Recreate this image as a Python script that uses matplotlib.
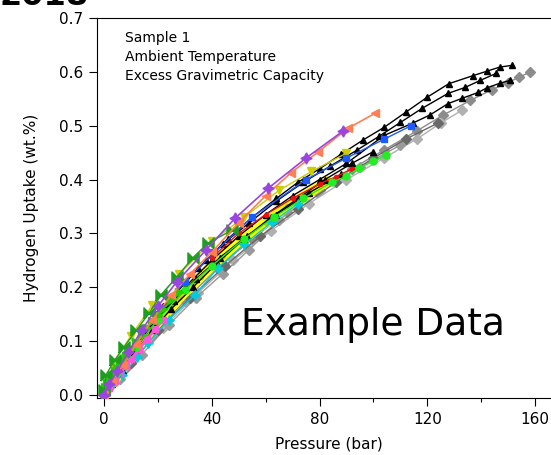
import numpy as np
import matplotlib.pyplot as plt
from matplotlib.path import Path

# isotermas de ejemplo (presion en bar, captacion en wt.%)
black_a_p = [0, 4, 9, 15, 22, 30, 38, 46, 55, 64, 72, 80, 88, 96, 104, 112, 120, 128, 137, 142, 147, 151.5]
black_a_u = [0, 0.035, 0.075, 0.12, 0.165, 0.21, 0.25, 0.29, 0.33, 0.365, 0.395, 0.42, 0.447, 0.473, 0.497, 0.525, 0.553, 0.578, 0.593, 0.601, 0.609, 0.612]
black_b_p = [0, 5, 10, 18, 26, 35, 44, 54, 64, 74, 84, 94, 102, 110, 118, 127.7, 134, 139.6, 145.5]
black_b_u = [0, 0.04, 0.08, 0.135, 0.185, 0.235, 0.28, 0.32, 0.36, 0.395, 0.425, 0.455, 0.48, 0.506, 0.532, 0.56, 0.571, 0.584, 0.597]
black_c_p = [0, 6, 12, 20, 30, 40, 50, 60, 70, 80, 90, 104, 114.7, 121, 127.7, 133, 139, 142, 147, 150.7]
black_c_u = [0, 0.045, 0.09, 0.145, 0.2, 0.25, 0.295, 0.335, 0.37, 0.4, 0.43, 0.482, 0.505, 0.52, 0.541, 0.551, 0.562, 0.57, 0.579, 0.584]
black_d_p = [0, 3, 7, 12, 18, 25, 33, 42, 52, 62, 72, 82, 92, 100]
black_d_u = [0, 0.02, 0.045, 0.08, 0.12, 0.16, 0.2, 0.245, 0.29, 0.33, 0.365, 0.4, 0.43, 0.452]
black_e_p = [0, 4, 8, 13, 19, 26, 34, 43, 53, 64, 76, 88]
black_e_u = [0, 0.03, 0.06, 0.095, 0.135, 0.175, 0.215, 0.255, 0.295, 0.335, 0.375, 0.41]

gray_a_p = [0, 8, 18, 30, 42, 55, 68, 80, 92, 104, 116, 126, 136, 144, 150, 154, 158]
gray_a_u = [0, 0.05, 0.11, 0.175, 0.235, 0.29, 0.34, 0.38, 0.42, 0.455, 0.49, 0.52, 0.547, 0.567, 0.58, 0.59, 0.599]
gray_b_p = [0, 10, 22, 35, 48, 62, 76, 90, 104, 116, 125, 133]
gray_b_u = [0, 0.06, 0.125, 0.19, 0.25, 0.305, 0.355, 0.4, 0.44, 0.475, 0.505, 0.529]
gray_c_p = [0, 6, 14, 24, 34, 44, 54, 65, 79, 95, 110]
gray_c_u = [0, 0.03, 0.075, 0.13, 0.18, 0.225, 0.27, 0.325, 0.377, 0.423, 0.464]
gray_d_p = [0, 10, 20, 32, 45, 58, 72, 86, 100, 112, 124]
gray_d_u = [0, 0.06, 0.12, 0.18, 0.24, 0.295, 0.345, 0.395, 0.44, 0.475, 0.505]

purple_p = [0, 2, 5, 9, 14, 20, 27, 38, 48.6, 61, 75, 88.7]
purple_u = [0, 0.02, 0.045, 0.08, 0.12, 0.165, 0.21, 0.27, 0.328, 0.384, 0.44, 0.49]
orange_p = [0, 3, 7, 12, 18, 25, 32, 40, 50, 60, 69.5, 79.4, 90.5, 100.6]
orange_u = [0, 0.025, 0.055, 0.095, 0.14, 0.185, 0.225, 0.265, 0.32, 0.37, 0.413, 0.451, 0.495, 0.523]
blue_p = [0, 5, 12, 20, 30, 41, 55, 75, 90, 104, 114]
blue_u = [0, 0.04, 0.095, 0.15, 0.21, 0.265, 0.33, 0.4, 0.44, 0.475, 0.5]
green_p = [0, 5, 12, 20, 30, 40, 52, 63, 74, 84.6, 89.8, 94.7, 99.8, 104.7]
green_u = [0, 0.04, 0.09, 0.14, 0.195, 0.24, 0.29, 0.33, 0.365, 0.395, 0.406, 0.421, 0.434, 0.445]
lime_p = [0, 0.5, 1, 2, 3, 4, 5, 6, 7, 8, 9, 10, 12, 14, 16, 18, 20, 22, 25, 28]
lime_u = [0.005, 0.015, 0.022, 0.03, 0.037, 0.044, 0.051, 0.058, 0.065, 0.072, 0.079, 0.086,
          0.099, 0.112, 0.125, 0.137, 0.149, 0.16, 0.176, 0.192]
dkgreen_p = [0, 0.7, 4, 7.4, 12, 16.7, 21, 27, 33, 38.6, 47.5]
dkgreen_u = [0.01, 0.037, 0.065, 0.089, 0.12, 0.152, 0.185, 0.219, 0.255, 0.282, 0.306]
yellow_p = [0, 5, 12, 20, 28, 36, 44, 52, 60, 68, 76, 84]
yellow_u = [0, 0.035, 0.085, 0.135, 0.18, 0.22, 0.258, 0.29, 0.32, 0.35, 0.375, 0.4]
olive_p = [0, 3.5, 10, 18, 28, 40, 52, 65, 77, 90]
olive_u = [0, 0.059, 0.11, 0.167, 0.225, 0.285, 0.33, 0.38, 0.415, 0.449]
cyan_p = [0, 3, 6.7, 12.3, 16.3, 24, 33.8, 42.3, 52, 62.4, 72]
cyan_u = [0, 0.018, 0.037, 0.07, 0.096, 0.14, 0.186, 0.236, 0.28, 0.321, 0.355]
pink_p = [0, 1, 2, 4, 6, 8, 10, 13, 16, 19, 22]
pink_u = [0, 0.006, 0.013, 0.026, 0.04, 0.053, 0.066, 0.085, 0.104, 0.122, 0.14]
red_p = [40, 50, 60, 70, 80, 86, 92]
red_u = [0.255, 0.3, 0.335, 0.365, 0.392, 0.405, 0.42]

x_ticks = [0, 40, 80, 120, 160]
y_ticks = [0.0, 0.1, 0.2, 0.3, 0.4, 0.5, 0.6, 0.7]

bowtie = Path([(-1, -1), (-1, 1), (1, -1), (1, 1), (-1, -1)])
star4 = (4, 1, 0)

fig = plt.figure(figsize=(5.51, 4.55), dpi=100)
ax = fig.add_axes([97 / 551, 1 - 398 / 455, (560 - 97) / 551, (398 - 18) / 455])

# grises
for p, u, c in [(gray_a_p, gray_a_u, '#8c8c8c'), (gray_b_p, gray_b_u, '#b0b0b0'),
                (gray_c_p, gray_c_u, '#9a9a9a'), (gray_d_p, gray_d_u, '#6a6a6a')]:
    ax.plot(p, u, color=c, lw=1, marker='D', ms=5, mec=c, mfc=c)

ax.plot(yellow_p, yellow_u, color='#ffff00', lw=7, solid_capstyle='butt', zorder=2)
ax.plot(yellow_p, yellow_u, color='#c8c800', lw=0.8, marker='o', ms=3, zorder=2)

# negras
for p, u in [(black_a_p, black_a_u), (black_b_p, black_b_u), (black_c_p, black_c_u),
             (black_d_p, black_d_u), (black_e_p, black_e_u)]:
    ax.plot(p, u, color='black', lw=1, marker='^', ms=5, zorder=3)

ax.plot(cyan_p, cyan_u, color='#00ccdd', lw=1, marker=star4, ms=7, zorder=3)
ax.plot(pink_p, pink_u, color='#ff55dd', lw=2, marker='s', ms=4, zorder=3)
ax.plot(olive_p, olive_u, color='#cccc00', lw=1, marker='v', ms=6, zorder=3)
ax.plot(blue_p, blue_u, color='#1e5bff', lw=1, marker='s', ms=5, zorder=3)
ax.plot(red_p, red_u, color='#ee1111', lw=1, marker='o', ms=3, zorder=3)
ax.plot(green_p, green_u, color='#22ee22', lw=1, marker='o', ms=5, zorder=4)
ax.plot(lime_p, lime_u, color='#22cc00', lw=1, marker='>', ms=6, zorder=4)
ax.plot(dkgreen_p, dkgreen_u, color='#1e9e1e', lw=1, marker=bowtie, ms=8, zorder=4)
ax.plot(orange_p, orange_u, color='#ff7f50', lw=1.2, marker='<', ms=6, zorder=4)
ax.plot(purple_p, purple_u, color='#9b45e0', lw=1.2, marker=star4, ms=8, zorder=4)

ax.set_xlim(-2.6, (560 - 104) / 2.694)
ax.set_ylim(-0.0056, 0.7)
ax.set_xticks(x_ticks)
ax.set_xticks([20, 60, 100, 140], minor=True)
ax.set_yticks(y_ticks)
ax.set_yticklabels([f'{v:.1f}' for v in y_ticks])
ax.tick_params(which='major', direction='out', length=6, width=0.8, labelsize=11, pad=4)
ax.tick_params(which='minor', direction='out', length=3, width=0.8)
ax.spines['right'].set_visible(False)

ax.set_xlabel('Pressure (bar)', fontsize=11, labelpad=7)
ax.set_ylabel('Hydrogen Uptake (wt.%)', fontsize=11, labelpad=14)

ax.text(0.06, 0.965, 'Sample 1\nAmbient Temperature\nExcess Gravimetric Capacity',
        transform=ax.transAxes, fontsize=10, va='top', linespacing=1.45)
ax.text(0.31, 0.165, 'Example Data', transform=ax.transAxes, fontsize=27)

fig.text(0.0, 1 - 5 / 455, '2018', fontsize=23, fontweight='bold', va='baseline')

fig.savefig('out.png', dpi=100)
